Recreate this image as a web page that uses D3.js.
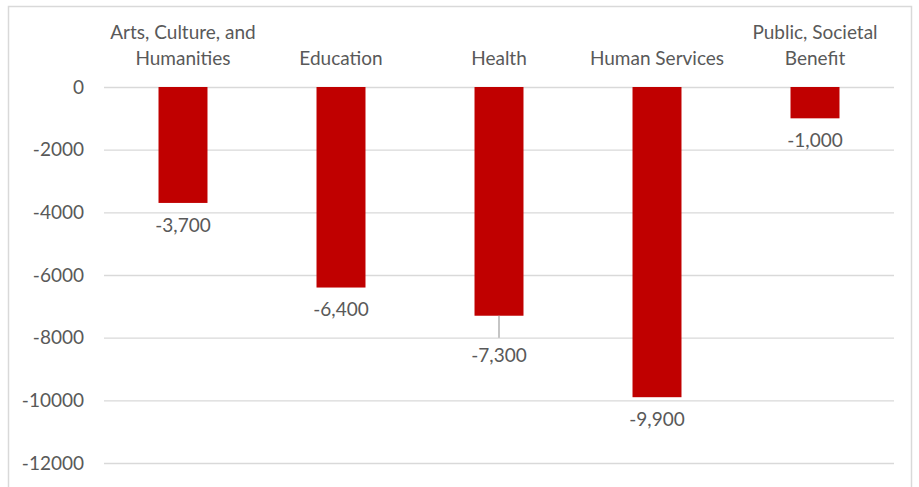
<!DOCTYPE html>
<html><head><meta charset="utf-8">
<script src="https://cdn.jsdelivr.net/npm/d3@7"></script>
<style>
body{margin:0;background:#fff;}
text{font-family:Lato, "Open Sans", sans-serif;fill:#595959;}
</style></head>
<body><svg id="c" width="919" height="487"></svg>
<script>
const categories = [["Arts, Culture, and","Humanities"],["Education"],["Health"],["Human Services"],["Public, Societal","Benefit"]];
const values = [-3700, -6400, -7300, -9900, -1000];
const yTicks = [0, -2000, -4000, -6000, -8000, -10000, -12000];

const svg = d3.select("#c");
const fs = 19;
// chart border
svg.append("rect").attr("x",8.5).attr("y",6.5).attr("width",903).attr("height",500)
  .attr("fill","none").attr("stroke","#d9d9d9").attr("stroke-width",1.5);

const x = d3.scaleBand().domain(d3.range(values.length)).range([104,894]).paddingInner(0.69).paddingOuter(0.345);
const y = d3.scaleLinear().domain([0,-12000]).range([87,463]);

const yAxis = d3.axisLeft(y).tickValues(yTicks).tickSize(-(894-104))
  .tickFormat(d => d3.format("d")(d).replace("\u2212","-"));
const ga = svg.append("g").attr("transform","translate(104,0)").call(yAxis);
ga.select(".domain").remove();
ga.selectAll(".tick line").attr("stroke","#d9d9d9").attr("stroke-width",1.3);
ga.selectAll(".tick text").attr("x",-20).attr("font-size",fs).attr("fill","#595959")
  .style("font-family","Lato, 'Open Sans', sans-serif");

// bars
svg.append("g").selectAll("rect").data(values).join("rect")
  .attr("x",(d,i)=>x(i)).attr("width",x.bandwidth())
  .attr("y",y(0)).attr("height",d=>y(d)-y(0)).attr("fill","#c00000");

// category labels
const cg = svg.append("g");
categories.forEach((lines,i)=>{
  const cx = x(i)+x.bandwidth()/2;
  lines.forEach((ln,j)=>{
    const cy = lines.length===1 ? 58 : 32 + j*26;
    cg.append("text").attr("x",cx).attr("y",cy).attr("dy","0.35em")
      .attr("text-anchor","middle").attr("font-size",fs).text(ln);
  });
});

// data labels
const fmt = d => d3.format(",")(d).replace("\u2212","-");
const labelShift = {2: 18};
const dg = svg.append("g");
values.forEach((v,i)=>{
  const cx = x(i)+x.bandwidth()/2;
  const shift = labelShift[i]||0;
  if(shift){
    dg.append("line").attr("x1",cx).attr("x2",cx).attr("y1",y(v)).attr("y2",y(v)+22)
      .attr("stroke","#a6a6a6").attr("stroke-width",1.3);
  }
  dg.append("text").attr("x",cx).attr("y",y(v)+22+shift).attr("dy","0.35em")
    .attr("text-anchor","middle").attr("font-size",fs).text(fmt(v));
});
</script></body></html>
